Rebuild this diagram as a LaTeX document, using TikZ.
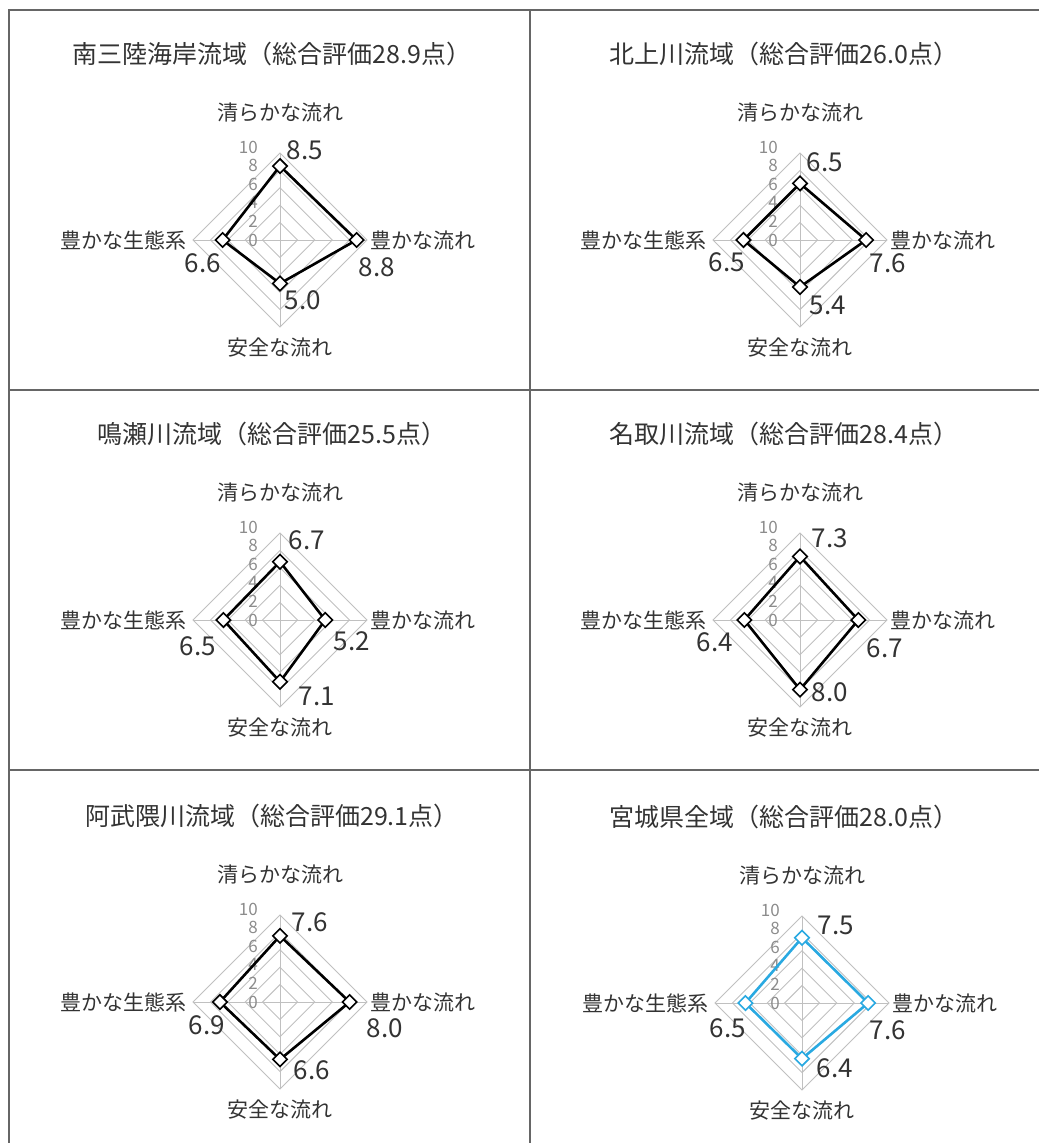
\documentclass[tikz,border=0pt]{standalone}
\usepackage{fontspec}
\setmainfont{Noto Sans CJK JP}
\usetikzlibrary{shapes.geometric}
\definecolor{framegray}{HTML}{666666}
\definecolor{gridgray}{HTML}{C0C0C0}
\definecolor{textgray}{HTML}{333333}
\definecolor{scalegray}{HTML}{8C8C8C}
\definecolor{seablue}{HTML}{29A9E1}
\tikzset{
  frameline/.style={draw=framegray, line width=1.3pt},
  gridline/.style={draw=gridgray, line width=0.9pt},
  titletext/.style={text=textgray, font=\fontsize{25}{28}\selectfont, inner sep=0pt},
  axistext/.style={text=textgray, font=\fontsize{21}{24}\selectfont, inner sep=0pt},
  valuetext/.style={text=textgray, font=\fontsize{26}{28}\selectfont, inner sep=0pt},
  scaletext/.style={text=scalegray, font=\fontsize{17}{18}\selectfont, inner sep=0pt, anchor=east},
  dataline/.style={line width=2.6pt, line join=round},
  datamark/.style={diamond, draw, fill=white, line width=1.6pt, minimum width=15pt, minimum height=15pt, inner sep=0pt}
}
\begin{document}
\begin{tikzpicture}[x=1pt,y=-1pt]
  \useasboundingbox (0,0) rectangle (1039,1143);
  % panel frame
  \draw[frameline] (9,1143) -- (9,10) -- (1039,10);
  \draw[frameline] (530,10) -- (530,1143);
  \draw[frameline] (9,390) -- (1039,390);
  \draw[frameline] (9,770) -- (1039,770);
  % radar charts: name/centre/title x/title/values (top,right,bottom,left)/colour/value label places
  \foreach \n/\cx/\cy/\tx/\ttl/\vt/\vr/\vb/\vl/\col/\tlx/\tly/\rlx/\rly/\blx/\bly/\llx/\lly in {
      a/280/240/272/南三陸海岸流域（総合評価28.9点）/8.5/8.8/5.0/6.6/black/25/-90/97/27/23/60/-77/23,
      b/800/240/784/北上川流域（総合評価26.0点）/6.5/7.6/5.4/6.5/black/25/-78/88/23/28/65/-73/22,
      c/280/620/272/鳴瀬川流域（総合評価25.5点）/6.7/5.2/7.1/6.5/black/27/-80/72/21/37/76/-82/26,
      d/800/620/784/名取川流域（総合評価28.4点）/7.3/6.7/8.0/6.4/black/30/-82/85/28/30/72/-85/22,
      e/280/1002/272/阿武隈川流域（総合評価29.1点）/7.6/8.0/6.6/6.9/black/30/-80/105/26/32/68/-73/23,
      f/802/1003/784/宮城県全域（総合評価28.0点）/7.5/7.6/6.4/6.5/seablue/34/-78/86/27/33/65/-74/25}
  {
    \begin{scope}[shift={(\cx,\cy)}]
      \node[titletext] (title-\n) at (\tx-\cx,-186) {\ttl};
      % grid
      \foreach \r in {2,4,...,10}
        \draw[gridline] (0,-\r*8.7) -- (\r*8.7,0) -- (0,\r*8.7) -- (-\r*8.7,0) -- cycle;
      \draw[gridline] (0,-87) -- (0,87);
      \draw[gridline] (-87,0) -- (87,0);
      \foreach \r in {0,2,...,10}
        \node[scaletext] (scale-\n-\r) at (-22,-\r*9.3) {\r};
      % axis names
      \node[axistext] (clean-\n) at (0,-128) {清らかな流れ};
      \node[axistext, anchor=west] (rich-\n) at (90,0) {豊かな流れ};
      \node[axistext] (safe-\n) at (0,108) {安全な流れ};
      \node[axistext, anchor=east] (eco-\n) at (-93,0) {豊かな生態系};
      % data
      \coordinate (pt-\n) at (0,-\vt*8.7);
      \coordinate (pr-\n) at (\vr*8.7,0);
      \coordinate (pb-\n) at (0,\vb*8.7);
      \coordinate (pl-\n) at (-\vl*8.7,0);
      \draw[dataline, draw=\col] (pt-\n) -- (pr-\n) -- (pb-\n) -- (pl-\n) -- cycle;
      \node[datamark, draw=\col] (mt-\n) at (pt-\n) {};
      \node[datamark, draw=\col] (mr-\n) at (pr-\n) {};
      \node[datamark, draw=\col] (mb-\n) at (pb-\n) {};
      \node[datamark, draw=\col] (ml-\n) at (pl-\n) {};
      \node[valuetext] (vt-\n) at (\tlx,\tly) {\vt};
      \node[valuetext] (vr-\n) at (\rlx,\rly) {\vr};
      \node[valuetext] (vb-\n) at (\blx,\bly) {\vb};
      \node[valuetext] (vl-\n) at (\llx,\lly) {\vl};
    \end{scope}
  }
\end{tikzpicture}
\end{document}
